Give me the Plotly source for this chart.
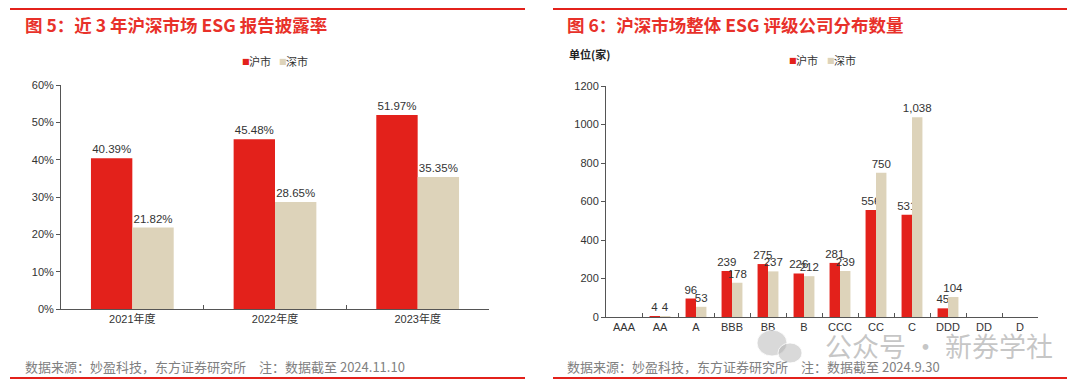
import plotly.graph_objects as go

# ---------------- data ----------------
series_names = ["沪市", "深市"]
series_colors = ["#E3211B", "#DDD3BA"]

years = ["2021年度", "2022年度", "2023年度"]
rate_sh = [40.39, 45.48, 51.97]
rate_sz = [21.82, 28.65, 35.35]

grades = ["AAA", "AA", "A", "BBB", "BB", "B", "CCC", "CC", "C", "DDD", "DD", "D"]
cnt_sh = [0, 4, 96, 239, 275, 226, 281, 556, 531, 45, 0, 0]
cnt_sz = [0, 4, 53, 178, 237, 212, 239, 750, 1038, 104, 0, 0]

title_left = "图 5：近 3 年沪深市场 ESG 报告披露率"
title_right = "图 6：沪深市场整体 ESG 评级公司分布数量"
source_left = "数据来源：妙盈科技，东方证券研究所　注：数据截至 2024.11.10"
source_right = "数据来源：妙盈科技，东方证券研究所　注：数据截至 2024.9.30"
unit_label = "单位(家)"
watermark = "公众号 · 新券学社"

W, H = 1080, 387
CJK = "Liberation Sans, Arial, Noto Sans CJK SC, sans-serif"
RED = "#E3211B"


def px(x):
    return x / W


def py(y):
    return (H - y) / H


fig = go.Figure()

# left chart
for name, vals, col in zip(series_names, [rate_sh, rate_sz], series_colors):
    fig.add_trace(go.Bar(
        x=years, y=vals, name=name, marker=dict(color=col, line=dict(width=0)),
        text=[f"{v:.2f}%" for v in vals], textposition="outside", constraintext="none",
        textfont=dict(size=11.5, color="#333333", family=CJK),
        cliponaxis=False, xaxis="x", yaxis="y", showlegend=False,
        offsetgroup=name,
    ))

# right chart
for name, vals, col in zip(series_names, [cnt_sh, cnt_sz], series_colors):
    fig.add_trace(go.Bar(
        x=grades, y=vals, name=name, marker=dict(color=col, line=dict(width=0)),
        text=[(f"{v:,}" if v > 0 else "") for v in vals], textposition="outside",
        constraintext="none",
        textfont=dict(size=11.5, color="#333333", family=CJK),
        cliponaxis=False, xaxis="x2", yaxis="y2", showlegend=False,
        offsetgroup=name,
    ))

axis_common = dict(
    showgrid=False, zeroline=False, showline=True, linecolor="#555555", linewidth=1,
    tickfont=dict(size=11, color="#333333", family=CJK), automargin=False,
)

fig.update_layout(
    width=W, height=H,
    margin=dict(l=0, r=0, t=0, b=0, pad=0),
    paper_bgcolor="white", plot_bgcolor="white",
    barmode="group", bargap=0.42, bargroupgap=0,
    font=dict(family=CJK),
    hovermode=False,
    xaxis=dict(domain=[px(61), px(489)], anchor="y", ticks="inside", tickson="boundaries",
               ticklen=4, tickcolor="#555555", **axis_common),
    yaxis=dict(domain=[py(309), py(85)], anchor="x", range=[0, 60], dtick=10,
               ticksuffix="%", ticks="outside", ticklen=4, tickcolor="#555555", **axis_common),
    xaxis2=dict(domain=[px(606), px(1038)], anchor="y2", ticks="inside", tickson="boundaries",
                ticklen=4, tickcolor="#555555", **axis_common),
    yaxis2=dict(domain=[py(317), py(86)], anchor="x2", range=[0, 1200], dtick=200,
                ticks="outside", ticklen=4, tickcolor="#555555", **axis_common),
)

shapes = []
for x0, x1 in [(10, 525), (553, 1067)]:
    for y in (9, 378):
        shapes.append(dict(type="line", xref="paper", yref="paper",
                           x0=px(x0), x1=px(x1), y0=py(y), y1=py(y),
                           line=dict(color=RED, width=2)))
# watermark icon (two speech bubbles)
for cx, cy, rx, ry in [(772, 343, 15, 13), (790, 353, 12, 10)]:
    shapes.append(dict(type="circle", xref="paper", yref="paper",
                       x0=px(cx - rx), x1=px(cx + rx), y0=py(cy + ry), y1=py(cy - ry),
                       fillcolor="rgba(170,170,170,0.45)", line=dict(width=1, color="rgba(255,255,255,0.8)")))

annotations = []
# titles
for x, t in [(23, title_left), (565, title_right)]:
    annotations.append(dict(x=px(x), y=py(24), xref="paper", yref="paper",
                            text=f"<b>{t}</b>", showarrow=False, xanchor="left", yanchor="middle",
                            font=dict(size=17.5, color="#E8312A", family="Noto Sans CJK SC")))
# sources
for x, t in [(23, source_left), (565, source_right)]:
    annotations.append(dict(x=px(x), y=py(366), xref="paper", yref="paper",
                            text=t, showarrow=False, xanchor="left", yanchor="middle",
                            font=dict(size=13, color="#808080", family="Noto Sans CJK SC")))
# unit label
annotations.append(dict(x=px(567), y=py(54), xref="paper", yref="paper", text=f"<b>{unit_label}</b>",
                        showarrow=False, xanchor="left", yanchor="middle",
                        font=dict(size=11, color="#222222", family="Noto Sans CJK SC")))
# legends (built from series names/colours)
for starts, yy in [((240, 277), 61), ((787, 825), 60)]:
    for sx, name, col in zip(starts, series_names, series_colors):
        annotations.append(dict(x=px(sx), y=py(yy), xref="paper", yref="paper", text="■",
                                showarrow=False, xanchor="left", yanchor="middle",
                                font=dict(size=8, color=col, family="DejaVu Sans")))
        annotations.append(dict(x=px(sx + 7), y=py(yy), xref="paper", yref="paper", text=name,
                                showarrow=False, xanchor="left", yanchor="middle",
                                font=dict(size=11, color="#333333", family="Noto Sans CJK SC")))
# watermark
annotations.append(dict(x=px(1055), y=py(345), xref="paper", yref="paper", text=watermark,
                        showarrow=False, xanchor="right", yanchor="middle",
                        font=dict(size=27, color="rgba(160,160,160,0.6)", family="Noto Sans CJK SC")))

fig.update_layout(shapes=shapes, annotations=annotations)

fig.write_html("out.html", config={"displayModeBar": False},
               post_script="document.body.style.margin='0';")
